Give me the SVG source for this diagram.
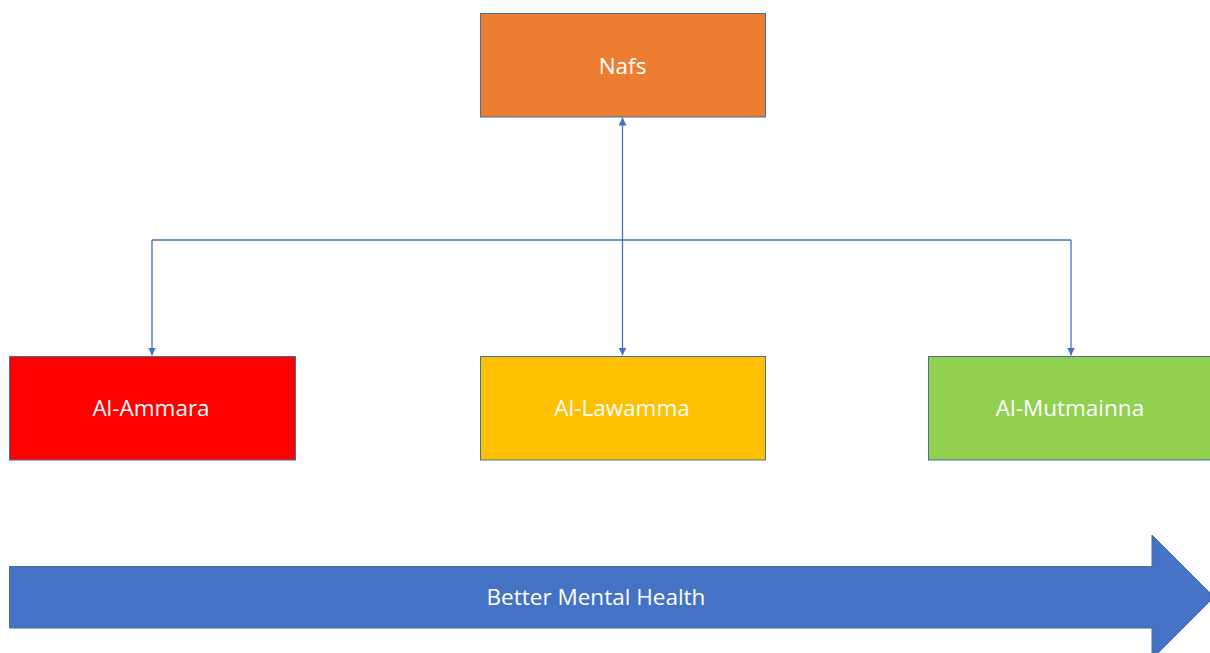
<svg xmlns="http://www.w3.org/2000/svg" width="1210" height="653" viewBox="0 0 1210 653">
<style>
.box{stroke:#41719C;stroke-width:1}
.lbl{font-family:"Open Sans","Liberation Sans",sans-serif;font-size:22.5px;fill:#ffffff;text-anchor:middle}
.con{fill:none;stroke:#4472C4;stroke-width:1.3}
</style>
<defs>
<marker id="ah" viewBox="0 0 10 10" refX="10" refY="5" markerWidth="8" markerHeight="8" markerUnits="userSpaceOnUse" orient="auto-start-reverse">
<path d="M0,0 L10,5 L0,10 Z" fill="#4472C4"/>
</marker>
</defs>
<rect width="1210" height="653" fill="#ffffff"/>
<g id="connectors">
<path class="con" d="M152,240 H1071"/>
<path class="con" d="M622.5,117.5 V355.5" marker-start="url(#ah)" marker-end="url(#ah)"/>
<path class="con" d="M152,240 V355.5" marker-end="url(#ah)"/>
<path class="con" d="M1071,240 V355.5" marker-end="url(#ah)"/>
</g>
<g id="nafs">
<rect class="box" x="480.5" y="13.5" width="285" height="103.5" fill="#ED7D31"/>
<text class="lbl" x="622.5" y="74">Nafs</text>
</g>
<g id="al-ammara">
<rect class="box" x="9.5" y="356.5" width="286" height="103.5" fill="#FF0000"/>
<text class="lbl" x="151" y="416">Al-Ammara</text>
</g>
<g id="al-lawamma">
<rect class="box" x="480.5" y="356.5" width="285" height="103.5" fill="#FFC000"/>
<text class="lbl" x="622" y="416">Al-Lawamma</text>
</g>
<g id="al-mutmainna">
<rect class="box" x="928.5" y="356.5" width="285" height="103.5" fill="#92D050"/>
<text class="lbl" x="1070" y="416">Al-Mutmainna</text>
</g>
<g id="better-mental-health">
<path d="M9.5,566.5 H1152 V535 L1214,597 L1152,659 V628 H9.5 Z" fill="#4472C4" stroke="#41719C" stroke-width="1"/>
<text class="lbl" x="596" y="605">Better Mental Health</text>
</g>
</svg>
